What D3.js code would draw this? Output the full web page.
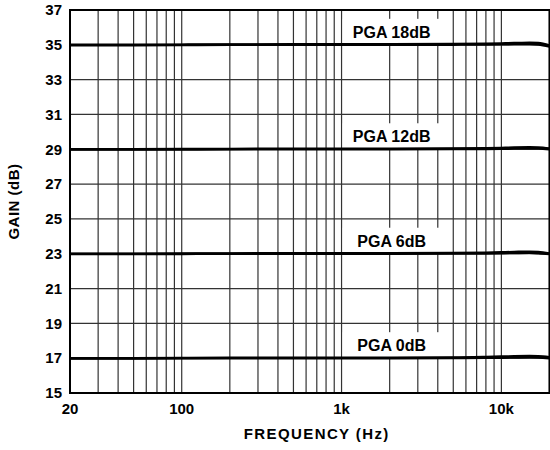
<!DOCTYPE html>
<html>
<head>
<meta charset="utf-8">
<script src="https://cdn.jsdelivr.net/npm/d3@7"></script>
<style>
  body { margin: 0; background: #fff; }
  text { font-family: "Liberation Sans", Arial, sans-serif; font-weight: bold; fill: #000; }
</style>
</head>
<body>
<script>
// frequency points (Hz)
var freqs = [20, 30, 50, 100, 200, 500, 1000, 2000, 5000, 8000, 10000, 12000, 15000, 17000, 20000];

// gain traces, two per PGA setting (dB)
var pga18a = [35.00, 35.00, 35.00, 35.01, 35.02, 35.03, 35.03, 35.03, 35.04, 35.06, 35.08, 35.10, 35.12, 35.10, 34.96];
var pga18b = [34.98, 34.98, 34.98, 34.99, 35.00, 35.00, 35.00, 35.00, 35.01, 35.02, 35.03, 35.04, 35.05, 35.02, 34.90];
var pga12a = [29.00, 29.00, 29.00, 29.01, 29.02, 29.03, 29.03, 29.03, 29.04, 29.06, 29.08, 29.10, 29.11, 29.10, 29.04];
var pga12b = [28.98, 28.98, 28.98, 28.99, 29.00, 29.00, 29.00, 29.00, 29.01, 29.02, 29.03, 29.04, 29.05, 29.04, 29.00];
var pga6a  = [23.00, 23.00, 23.00, 23.01, 23.02, 23.03, 23.03, 23.03, 23.04, 23.06, 23.08, 23.10, 23.12, 23.10, 23.02];
var pga6b  = [22.98, 22.98, 22.98, 22.99, 23.00, 23.00, 23.00, 23.00, 23.01, 23.02, 23.03, 23.04, 23.05, 23.03, 22.98];
var pga0a  = [17.00, 17.00, 17.00, 17.01, 17.02, 17.03, 17.03, 17.03, 17.04, 17.07, 17.09, 17.11, 17.12, 17.11, 17.06];
var pga0b  = [16.98, 16.98, 16.98, 16.99, 17.00, 17.00, 17.00, 17.00, 17.01, 17.02, 17.03, 17.04, 17.05, 17.04, 17.00];

var series = [pga18a, pga18b, pga12a, pga12b, pga6a, pga6b, pga0a, pga0b];

var labels = ["PGA 18dB", "PGA 12dB", "PGA 6dB", "PGA 0dB"];
var labelGains = [35, 29, 23, 17];
var labelFreq = 2000;

var yTicks = [15, 17, 19, 21, 23, 25, 27, 29, 31, 33, 35, 37];
var xTickVals = [20, 100, 1000, 10000];
var xTickText = ["20", "100", "1k", "10k"];
var xGrid = [20, 30, 40, 50, 60, 70, 80, 90, 100, 200, 300, 400, 500, 600, 700, 800, 900,
             1000, 2000, 3000, 4000, 5000, 6000, 7000, 8000, 9000, 10000, 20000];

var W = 550, H = 450;
var m = { left: 70, right: 0.5, top: 10, bottom: 57 };

var svg = d3.select("body").append("svg")
  .attr("width", W)
  .attr("height", H);

var x = d3.scaleLog().domain([20, 20000]).range([m.left, W - m.right]);
var y = d3.scaleLinear().domain([15, 37]).range([H - m.bottom, m.top]);

// grid
svg.append("g").selectAll("line")
  .data(xGrid)
  .enter().append("line")
  .attr("x1", function(d) { return x(d); })
  .attr("x2", function(d) { return x(d); })
  .attr("y1", y(15))
  .attr("y2", y(37))
  .attr("stroke", "#333")
  .attr("stroke-width", 1.2);

svg.append("g").selectAll("line")
  .data(yTicks)
  .enter().append("line")
  .attr("x1", x(20))
  .attr("x2", x(20000))
  .attr("y1", function(d) { return y(d); })
  .attr("y2", function(d) { return y(d); })
  .attr("stroke", "#333")
  .attr("stroke-width", 1.2);

// label boxes (hide the grid behind the text)
var lab = svg.append("g").selectAll("g")
  .data(labels)
  .enter().append("g");

lab.append("rect")
  .attr("x", x(labelFreq) - 47)
  .attr("y", function(d, i) { return y(labelGains[i]) - 26; })
  .attr("width", 102)
  .attr("height", 25)
  .attr("fill", "#fff");

lab.append("text")
  .attr("x", x(labelFreq) + 2)
  .attr("y", function(d, i) { return y(labelGains[i]) - 7; })
  .attr("text-anchor", "middle")
  .style("font-size", "16px")
  .text(function(d) { return d; });

// frame
svg.append("rect")
  .attr("x", x(20))
  .attr("y", y(37))
  .attr("width", x(20000) - x(20))
  .attr("height", y(15) - y(37))
  .attr("fill", "none")
  .attr("stroke", "#000")
  .attr("stroke-width", 2);

// curves
var line = d3.line()
  .x(function(d, i) { return x(freqs[i]); })
  .y(function(d) { return y(d); })
  .curve(d3.curveMonotoneX);

svg.append("g").selectAll("path")
  .data(series)
  .enter().append("path")
  .attr("d", line)
  .attr("fill", "none")
  .attr("stroke", "#000")
  .attr("stroke-width", 2.5);

// tick labels
svg.append("g").selectAll("text")
  .data(yTicks)
  .enter().append("text")
  .attr("x", m.left - 8)
  .attr("y", function(d) { return y(d); })
  .attr("dy", "0.35em")
  .attr("text-anchor", "end")
  .style("font-size", "15px")
  .text(function(d) { return d; });

svg.append("g").selectAll("text")
  .data(xTickVals)
  .enter().append("text")
  .attr("x", function(d) { return x(d); })
  .attr("y", H - m.bottom + 21)
  .attr("text-anchor", "middle")
  .style("font-size", "15px")
  .text(function(d, i) { return xTickText[i]; });

// axis titles
svg.append("text")
  .attr("x", (x(20) + x(20000)) / 2 + 7)
  .attr("y", 439)
  .attr("text-anchor", "middle")
  .style("font-size", "15px")
  .style("letter-spacing", "1.4px")
  .text("FREQUENCY (Hz)");

svg.append("text")
  .attr("transform", "translate(19," + ((y(15) + y(37)) / 2) + ") rotate(-90)")
  .attr("text-anchor", "middle")
  .style("font-size", "15px")
  .style("letter-spacing", "0.5px")
  .text("GAIN (dB)");
</script>
</body>
</html>
